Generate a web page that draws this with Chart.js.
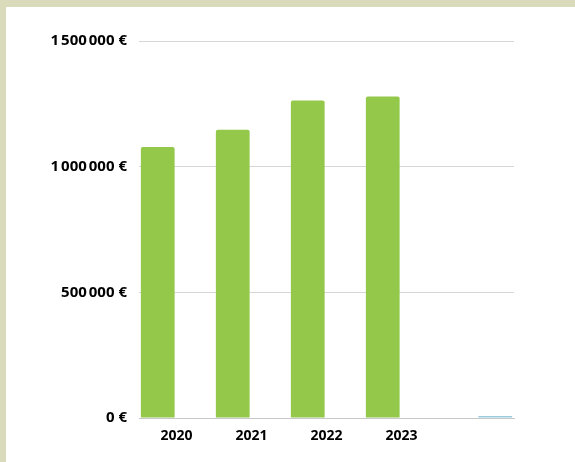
<!DOCTYPE html>
<html>
<head>
<meta charset="utf-8">
<script src="https://cdn.jsdelivr.net/npm/chart.js@4"></script>
<style>
    html, body { margin: 0; padding: 0; }
    body { width: 575px; height: 462px; background: #d9dbbb; position: relative; overflow: hidden; }
    #panel { position: absolute; left: 6px; top: 7px; width: 569px; height: 455px; background: #fff; }
</style>
</head>
<body>
<div id="panel"><canvas id="revenueChart" width="569" height="455"></canvas></div>
<script>
// années et chiffre d'affaires
const years = ['2020', '2021', '2022', '2023', ''];
const revenue = [1078000, 1147000, 1263000, 1279000, null];
const otherSeries = [null, null, null, null, 8000];
const yTicks = [0, 500000, 1000000, 1500000];

function formatEuro(v) {
    // espaces fines comme dans l'original
    return String(v).replace(/\B(?=(\d{3})+(?!\d))/g, '\u202F') + ' €';
}

document.addEventListener('DOMContentLoaded', () => {
    const ctx = document.getElementById('revenueChart').getContext('2d');
    new Chart(ctx, {
        type: 'bar',
        data: {
            labels: years,
            datasets: [{
                label: 'CA',
                data: revenue,
                backgroundColor: '#93c84a',
                borderRadius: 2,
                borderSkipped: 'bottom'
            }, {
                label: 'Autre',
                data: otherSeries,
                backgroundColor: '#9ccbe0'
            }]
        },
        options: {
            responsive: false,
            animation: false,
            layout: { padding: { top: 34, right: 61, left: 0, bottom: 0 } },
            plugins: { legend: { display: false }, tooltip: { enabled: false } },
            datasets: { bar: { categoryPercentage: 1, barPercentage: 0.9 } },
            scales: {
                x: {
                    grid: { display: false, drawTicks: false },
                    border: { color: '#c8c8c8', width: 1 },
                    ticks: { color: '#000', padding: 10, font: { family: 'Open Sans', size: 14, weight: 'bold' } },
                    afterFit: scale => { scale.height = 44; }
                },
                y: {
                    min: 0,
                    max: 1500000,
                    afterBuildTicks: scale => { scale.ticks = yTicks.map(v => ({ value: v })); },
                    grid: { color: '#d6d6d6', drawTicks: false },
                    border: { display: false },
                    ticks: {
                        color: '#000',
                        padding: 12,
                        font: { family: 'Open Sans', size: 15, weight: 'bold' },
                        callback: v => formatEuro(v)
                    },
                    afterFit: scale => { scale.width = 133; }
                }
            }
        }
    });
});
</script>
</body>
</html>
